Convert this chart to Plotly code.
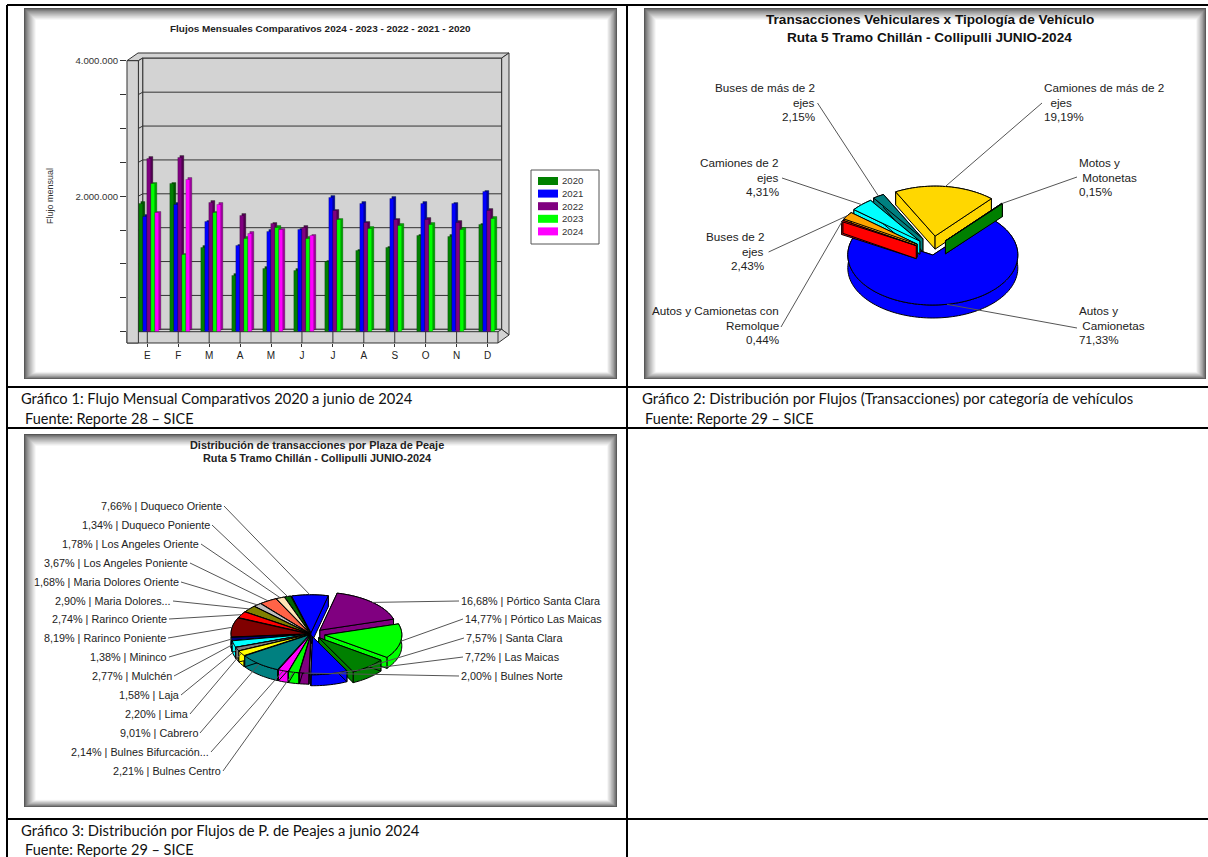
import math
import plotly.graph_objects as go

W, H = 1208, 857
months = ["E", "F", "M", "A", "M", "J", "J", "A", "S", "O", "N", "D"]
years = ["2020", "2021", "2022", "2023", "2024"]
flow_2020 = [1895000, 2180000, 1240000, 830000, 935000, 905000, 1030000, 1190000, 1235000, 1410000, 1400000, 1575000]
flow_2021 = [1700000, 1875000, 1620000, 1265000, 1480000, 1500000, 1975000, 1890000, 1965000, 1890000, 1885000, 2060000]
flow_2022 = [2560000, 2575000, 1910000, 1710000, 1590000, 1535000, 1780000, 1605000, 1650000, 1660000, 1615000, 1790000]
flow_2023 = [2180000, 1130000, 1750000, 1370000, 1535000, 1380000, 1650000, 1520000, 1570000, 1585000, 1510000, 1670000]
flow_2024 = [1750000, 2250000, 1875000, 1450000, 1500000, 1410000, None, None, None, None, None, None]
series_colors = ["#008000", "#0000FF", "#800080", "#00FF00", "#FF00FF"]
series_dark = ["#005500", "#0000AA", "#550055", "#00AA00", "#AA00AA"]

type_labels = ["Autos y<br>&#160;Camionetas<br>71,33%", "Autos y Camionetas con<br>Remolque<br>0,44%",
               "Buses de 2<br>ejes<br>2,43%", "Camiones de 2<br>ejes<br>4,31%",
               "Buses de más de 2<br>ejes<br>2,15%", "Camiones de más de 2<br>&#160;&#160;ejes<br>19,19%",
               "Motos y<br>&#160;Motonetas<br>0,15%"]
type_values = [71.33, 0.44, 2.43, 4.31, 2.15, 19.19, 0.15]
type_colors = ["#0000FF", "#FF0000", "#FFA500", "#00FFFF", "#008080", "#FFD700", "#008000"]

plaza_labels = ["16,68% | Pórtico Santa Clara", "14,77% | Pórtico Las Maicas", "7,57% | Santa Clara",
                "7,72% | Las Maicas", "2,00% | Bulnes Norte", "2,21% | Bulnes Centro",
                "2,14% | Bulnes Bifurcación...", "9,01% | Cabrero", "2,20% | Lima", "1,58% | Laja",
                "2,77% | Mulchén", "1,38% | Mininco", "8,19% | Rarinco Poniente", "2,74% | Rarinco Oriente",
                "2,90% | Maria Dolores...", "1,68% | Maria Dolores Oriente", "3,67% | Los Angeles Poniente",
                "1,78% | Los Angeles Oriente", "1,34% | Duqueco Poniente", "7,66% | Duqueco Oriente"]
plaza_values = [16.68, 14.77, 7.57, 7.72, 2.00, 2.21, 2.14, 9.01, 2.20, 1.58, 2.77, 1.38, 8.19, 2.74, 2.90, 1.68,
                3.67, 1.78, 1.34, 7.66]
plaza_colors = ["#800080", "#00FF00", "#008000", "#0000FF", "#800080", "#00FF00", "#FF00FF", "#008080", "#FFFF00",
                "#808080", "#00FFFF", "#000080", "#800000", "#FF0000", "#808000", "#C0C0C0", "#FF6347", "#FFE4B5",
                "#006400", "#0000FF"]

captions = ["Gráfico 1: Flujo Mensual Comparativos 2020 a junio de 2024", "Fuente: Reporte 28 – SICE",
            "Gráfico 2: Distribución por Flujos (Transacciones) por categoría de vehículos", "Fuente: Reporte 29 – SICE",
            "Gráfico 3: Distribución por Flujos de P. de Peajes a junio 2024", "Fuente: Reporte 29 – SICE"]

ARIAL = "Liberation Sans"
CALIBRI = "Lato"
fig = go.Figure()
shapes, notes = [], []


def px(x):
    return x / W


def py(y):
    return 1 - y / H


def rect(x0, y0, x1, y1, fill=None, line=None, lw=1):
    shapes.append(dict(type="rect", xref="paper", yref="paper", x0=px(x0), x1=px(x1), y0=py(y0), y1=py(y1),
                       fillcolor=fill or "rgba(0,0,0,0)", line=dict(color=line or "rgba(0,0,0,0)", width=lw if line else 0),
                       layer="below"))


def seg(x0, y0, x1, y1, color="#000", lw=1):
    shapes.append(dict(type="line", xref="paper", yref="paper", x0=px(x0), x1=px(x1), y0=py(y0), y1=py(y1),
                       line=dict(color=color, width=lw), layer="below"))


def poly(points, fill, line="#333", lw=1):
    path = "M " + " L ".join(f"{px(a):.5f},{py(b):.5f}" for a, b in points) + " Z"
    shapes.append(dict(type="path", xref="paper", yref="paper", path=path, fillcolor=fill,
                       line=dict(color=line, width=lw), layer="below"))


def text(x, y, s, size=9.5, font=ARIAL, anchor="left", color="#222", bold=False, angle=0, align=None):
    notes.append(dict(xref="paper", yref="paper", x=px(x), y=py(y), text=f"<b>{s}</b>" if bold else s,
                      showarrow=False, xanchor=anchor, yanchor="middle", textangle=angle,
                      align=align or anchor, font=dict(family=font, size=size, color=color),
                      borderpad=0, borderwidth=0))


def panel(x0, y0, x1, y1):
    steps = 14
    for i in range(steps):
        g = int(85 + (255 - 85) * (i / (steps - 1)) ** 0.75)
        c = f"rgb({g},{g},{g})"
        rect(x0 + i * 0.9, y0 + i * 0.9, x1 - i * 0.75, y1 - i * 0.55, fill=c)


# page grid
seg(7, 5, 1208, 5, lw=2)
seg(7, 5, 7, 857, lw=2)
seg(627, 5, 627, 857, lw=2)
seg(7, 387, 1208, 387, lw=2)
seg(7, 428, 1208, 428, lw=2)
seg(7, 819, 1208, 819, lw=2)
panel(24, 8, 617, 379)
panel(644, 8, 1206, 379)
panel(24, 434, 617, 807)

cap_pos = [(21, 398, 14.7), (25, 418, 14.5), (642, 398, 14.9), (645, 418, 14.5), (21, 830, 14.8), (25, 849, 14.5)]
for (x, y, size), cap in zip(cap_pos, captions):
    text(x, y, cap, size=size, font=CALIBRI, color="#111")

# ---- chart 1 : 3D-look bars
Y0_PX, Y4_PX = 331.7, 60.7
FLOOR = 343
SLOT_X = 30.93
X0_PX = 147.3
AX_L, AX_R = 127, 498
WALL = "#D3D3D3"


def val_px(v):
    return Y0_PX - v / 4e6 * (Y0_PX - Y4_PX)


poly([(142.7, 58), (501.7, 58), (501.7, 329.3), (142.7, 329.3)], WALL)
poly([(127, 60.7), (138, 53), (509, 53), (501.7, 58), (142.7, 58), (138.4, 60.7)], WALL)
poly([(501.7, 58), (509, 53), (509, 335), (501.7, 329.3)], WALL)
poly([(138.4, 60.7), (142.7, 58), (142.7, 329.3), (138.4, 331.7)], WALL)
poly([(138.4, 331.7), (142.7, 329.3), (501.7, 329.3), (509, 335), (498, 343), (127, 343), (127, 331.7)], WALL)
poly([(127, 60.7), (138.4, 60.7), (138.4, 343), (127, 343)], WALL)
seg(138.4, 331.7, 498, 331.7, color="#333")
seg(498, 331.7, 498, 343, color="#333")
seg(498, 331.7, 501.7, 329.3, color="#333")
for k in range(1, 8):
    yy = val_px(k * 500000)
    seg(142.7, yy - 2.4, 501.7, yy - 2.4, color="#333")
    seg(138.4, yy, 142.7, yy - 2.4, color="#333")
for i in range(len(months)):
    xx = X0_PX + i * SLOT_X
    seg(xx, 331.7, xx, 343, color="#333")

bar_px = 4.0
depth_x = 2.0
depth_y = 1.7
flows = [flow_2020, flow_2021, flow_2022, flow_2023, flow_2024]
for i, vals in enumerate(flows):
    off = (-8.3 + i * bar_px) / SLOT_X
    wid = bar_px / SLOT_X
    dep_v = depth_y / (Y0_PX - Y4_PX) * 4e6
    fig.add_trace(go.Bar(x=list(range(12)), y=vals, base=dep_v, offset=off + depth_x / SLOT_X, width=wid,
                         marker=dict(color=series_dark[i], line=dict(color="#003300", width=0.3)),
                         xaxis="x2", yaxis="y2", showlegend=False, hoverinfo="skip"))
    fig.add_trace(go.Bar(x=list(range(12)), y=vals, offset=off, width=wid,
                         marker=dict(color=series_colors[i], line=dict(color="rgba(0,0,0,0.55)", width=0.4)),
                         xaxis="x2", yaxis="y2", name=years[i], showlegend=False))

text(320.5, 28, "Flujos Mensuales Comparativos 2024 - 2023 - 2022 - 2021 - 2020", size=9.95, anchor="center", bold=True)
text(50, 196, "Flujo mensual", size=9, anchor="center", angle=-90, color="#333")
rect(531, 170, 599, 244, fill="#FFFFFF", line="#555")
for i, name in enumerate(years):
    yy = 181 + i * 12.6
    rect(538, yy - 4, 558, yy + 4, fill=series_colors[i])
    text(562, yy, name, size=9.6, color="#333")


# ---- pies
def closed(points):
    xs = [p[0] for p in points] + [points[0][0], None]
    ys = [p[1] for p in points] + [points[0][1], None]
    return xs, ys


def pie(values, colors, cx, cy, rx, ry, thick, start, explode, squash=1.0, first=None):
    total = sum(values)
    ang = start
    slices = []
    for i, v in enumerate(values):
        span = v / total * 360
        a0, a1 = ang, ang + span
        mid = math.radians((a0 + a1) / 2)
        ox = cx + explode[i] * math.cos(mid)
        oy = cy + explode[i] * math.sin(mid) * squash
        n = max(3, int(span / 2))
        arc = [(ox + rx * math.cos(math.radians(a0 + span * j / n)),
                oy + ry * math.sin(math.radians(a0 + span * j / n))) for j in range(n + 1)]
        slices.append(dict(i=i, mid=mid, ox=ox, oy=oy, arc=arc,
                           anchor=(ox + rx * math.cos(mid), oy + ry * math.sin(mid))))
        ang = a1
    order = sorted(slices, key=lambda s: (math.sin(s["mid"]) * ry + (s["oy"] - cy)))
    if first is not None:
        order = [slices[first]] + [s for s in order if s["i"] != first]
    for s in order:
        col = colors[s["i"]]
        tip = (s["ox"], s["oy"])
        arc = s["arc"]
        down = lambda p: (p[0], p[1] + thick)
        faces = [arc + [down(p) for p in reversed(arc)],
                 [tip, arc[0], down(arc[0]), down(tip)],
                 [tip, arc[-1], down(arc[-1]), down(tip)]]
        for face in faces:
            xs, ys = closed(face)
            fig.add_trace(go.Scatter(x=xs, y=ys, mode="lines", fill="toself", fillcolor=col,
                                     line=dict(width=1, color="#000", simplify=False), showlegend=False,
                                     hoverinfo="skip"))
        top = [tip] + arc
        xs, ys = closed(top)
        fig.add_trace(go.Scatter(x=xs, y=ys, mode="lines", fill="toself", fillcolor=col,
                                 line=dict(width=1, color="#000", simplify=False), showlegend=False, hoverinfo="skip"))
    return slices


def leader(a, b):
    fig.add_trace(go.Scatter(x=[a[0], b[0]], y=[a[1], b[1]], mode="lines", line=dict(color="#555", width=1),
                             showlegend=False, hoverinfo="skip"))


def multiline(x, y, lab, anchor, size, step):
    parts = lab.split("<br>")
    for k, part in enumerate(parts):
        text(x, y + (k - (len(parts) - 1) / 2) * step, part, size=size, anchor=anchor, color="#222")


# chart 2
s2 = pie(type_values, type_colors, 932.8, 255, 85, 50, 13, -48, [0, 19, 19, 19, 19, 19, 19], first=0)
text(929.5, 19, "Transacciones Vehiculares x Tipología de Vehículo", size=13.6, anchor="center", bold=True, color="#111")
text(929.5, 38, "Ruta 5 Tramo Chillán - Collipulli JUNIO-2024", size=13.6, anchor="center", bold=True, color="#111")
type_pos = [(1079, 325, "left"), (779, 325, "right"), (764, 251, "right"), (779, 177, "right"),
            (815, 102, "right"), (1044, 102, "left"), (1079, 177, "left")]
type_ends = [(1077, 328), (781, 327), (768.6, 252), (782, 178), (817.5, 103), (1042, 103), (1077, 177)]
for sl, lab, (x, y, an), end in zip(s2, type_labels, type_pos, type_ends):
    multiline(x, y, lab, an, 11.7, 14.8)
    leader(end, sl["anchor"])

# chart 3
plaza_explode = [13, 14, 12, 7, 3, 3, 3, 3, 3, 3, 3, 3, 3, 3, 3, 3, 3, 3, 3, 3]
s3 = pie(plaza_values, plaza_colors, 311, 634, 77, 38, 11, -77, plaza_explode, squash=0.4)
text(317, 445, "Distribución de transacciones por Plaza de Peaje", size=10.9, anchor="center", bold=True)
text(317, 458, "Ruta 5 Tramo Chillán - Collipulli JUNIO-2024", size=10.9, anchor="center", bold=True)
plaza_pos = [(461, 601, "left"), (465, 619, "left"), (466, 638, "left"), (465, 657, "left"), (461, 676, "left"),
             (221, 771, "right"), (209, 752, "right"), (198, 733, "right"), (188, 714, "right"), (179, 695, "right"),
             (172, 676, "right"), (167, 657, "right"), (166, 638, "right"), (167, 619, "right"), (171, 601, "right"),
             (179, 582, "right"), (188, 563, "right"), (199, 544, "right"), (210, 525, "right"), (222, 506, "right")]
for sl, lab, (x, y, an) in zip(s3, plaza_labels, plaza_pos):
    text(x, y, lab, size=10.8, anchor=an, color="#222")
    leader((x - 2 if an == "left" else x + 2, y), sl["anchor"])

tick_vals = [k * 500000 for k in range(9)]
tick_text = ["" if v not in (4000000, 2000000) else f"{v:,}".replace(",", ".") for v in tick_vals]
fig.update_layout(
    width=W, height=H, margin=dict(l=0, r=0, t=0, b=0), autosize=False,
    paper_bgcolor="#FFFFFF", plot_bgcolor="rgba(0,0,0,0)", barmode="overlay", bargap=0,
    shapes=shapes, annotations=notes,
    xaxis=dict(domain=[0, 1], range=[0, W], visible=False, fixedrange=True, automargin=False),
    yaxis=dict(domain=[0, 1], range=[H, 0], visible=False, fixedrange=True, automargin=False),
    xaxis2=dict(domain=[px(AX_L), px(AX_R)], range=[(AX_L - X0_PX) / SLOT_X, (AX_R - X0_PX) / SLOT_X], anchor="y2",
                tickmode="array", tickvals=list(range(12)), ticktext=months, ticks="outside", ticklen=3, tickcolor="#333",
                tickfont=dict(family=ARIAL, size=10, color="#222"), showgrid=False, zeroline=False, showline=False,
                automargin=False),
    yaxis2=dict(domain=[py(FLOOR), py(Y4_PX)], range=[-(FLOOR - Y0_PX) / (Y0_PX - Y4_PX) * 4e6, 4e6], anchor="x2",
                tickmode="array", tickvals=tick_vals, ticktext=tick_text, ticks="outside", ticklen=6, tickcolor="#333",
                tickfont=dict(family=ARIAL, size=9.6, color="#333"), showgrid=False, zeroline=False, showline=False,
                automargin=False),
)
fig.write_html("out.html", config=dict(displayModeBar=False),
               post_script="document.body.style.margin='0';document.documentElement.style.overflow='hidden';")
